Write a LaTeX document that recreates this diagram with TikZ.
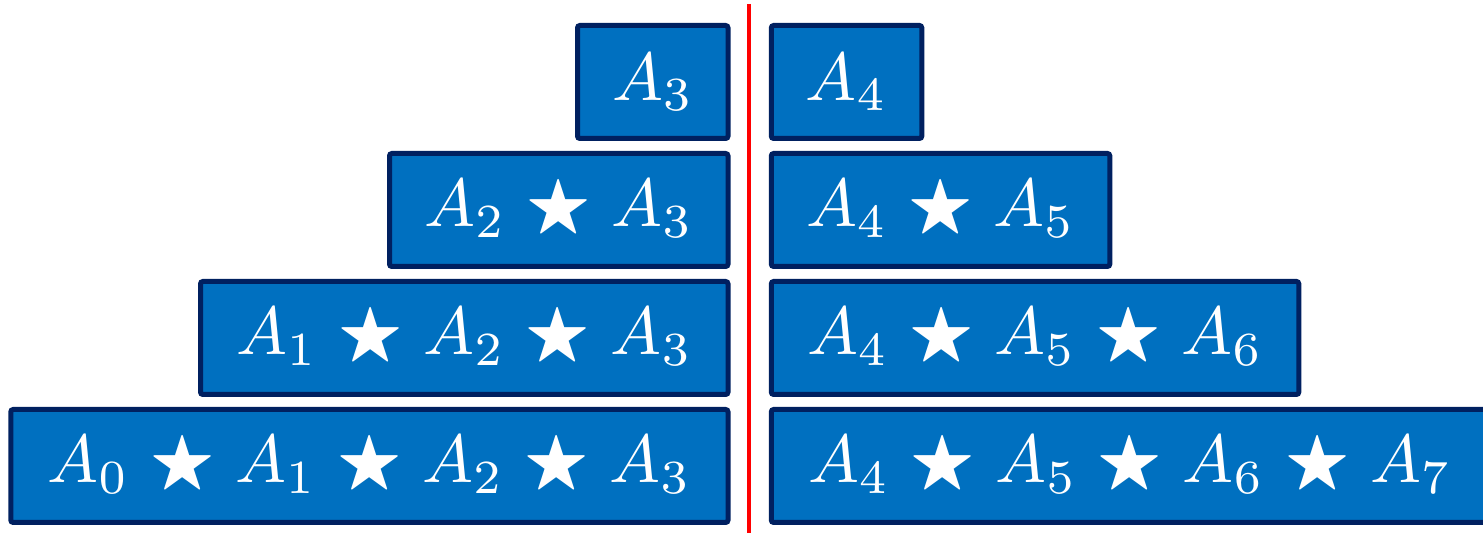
\documentclass[tikz,border=0pt]{standalone}
\usepackage{graphicx}
\usepackage{amssymb}
\usetikzlibrary{positioning}
\definecolor{boxblue}{HTML}{0070C0}
\definecolor{boxedge}{HTML}{002060}
\newcommand{\sop}{\mskip5.5mu\bigstar\mskip5.5mu}
\newcommand{\blktext}[1]{\scalebox{3.4}{$#1$}}

\begin{document}
\begin{tikzpicture}[x=0.5pt,y=0.5pt,
  blk/.style={draw=boxedge,fill=boxblue,line width=2.5pt,rounded corners=1.2pt,
    text=white,inner sep=0pt,minimum height=56.5pt}]
  \useasboundingbox (0,0) rectangle (1483,533);
  % left half ends at the red line, right half starts after it
  \foreach \i/\y/\w/\lt/\rt in {
     1/451/75.25/{A_3}/{A_4},
     2/323/169.25/{A_2\sop A_3}/{A_4\sop A_5},
     3/195/263.75/{A_1\sop A_2\sop A_3}/{A_4\sop A_5\sop A_6},
     4/67/358.6/{A_0\sop A_1\sop A_2\sop A_3}/{A_4\sop A_5\sop A_6\sop A_7}}
  {
    \node[blk,anchor=east,minimum width=\w pt] (l\i) at (730.5,\y) {\blktext{\lt}};
    \node[blk,anchor=west,minimum width=\w pt] (r\i) at (768.8,\y) {\blktext{\rt}};
  }
  \coordinate (top) at (748.5,529);
  \coordinate (bot) at (748.5,0);
  \draw[red,line width=2pt] (top) -- (bot);
\end{tikzpicture}
\end{document}
